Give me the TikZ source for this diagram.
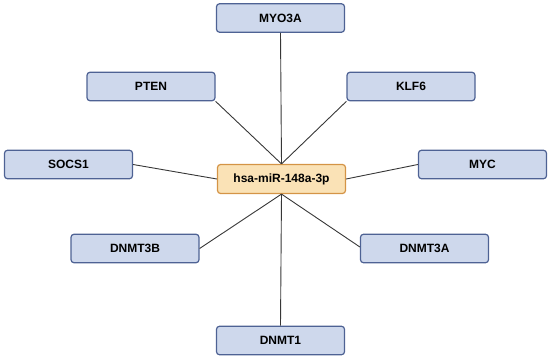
\documentclass[tikz,border=0pt]{standalone}
\usepackage{fontspec}
\setmainfont{Liberation Sans}
\usepackage{tikz}
\usetikzlibrary{positioning}

\definecolor{genefill}{RGB}{206,216,236}
\definecolor{genedraw}{RGB}{78,98,148}
\definecolor{mirfill}{RGB}{250,226,182}
\definecolor{mirdraw}{RGB}{212,148,70}
\definecolor{linkcol}{RGB}{55,55,55}

\begin{document}
\begin{tikzpicture}[
  x=1pt, y=-1pt,
  font=\fontsize{12}{14}\selectfont\bfseries,
  gene/.style = {draw=genedraw, fill=genefill, rectangle, rounded corners=3pt,
                 line width=1.2pt, align=center, inner sep=2pt,
                 minimum width=128pt, minimum height=28.5pt},
  mir/.style  = {draw=mirdraw, fill=mirfill, rectangle, rounded corners=3pt,
                 line width=1.2pt, align=center, inner sep=2pt,
                 minimum width=128pt, minimum height=29pt},
  link/.style = {draw=linkcol, line width=0.9pt}
]
\useasboundingbox (0,0) rectangle (550,359);

% miRNA
\node[mir] (mir) at (281.5, 179) {hsa-miR-148a-3p};

% Target genes
\node[gene] (myo) at (280.5, 18)   {MYO3A};
\node[gene] (pten) at (151, 86.5)  {PTEN};
\node[gene] (klf) at (411, 86.5)   {KLF6};
\node[gene] (socs) at (68.5, 164.5) {SOCS1};
\node[gene] (myc) at (482.5, 164.5) {MYC};
\node[gene] (d3b) at (135, 248.5)  {DNMT3B};
\node[gene] (d3a) at (424.5, 248.5) {DNMT3A};
\node[gene] (d1) at (280.5, 340.5) {DNMT1};

% Links
\draw[link] (myo.south) -- (mir.north);
\draw[link] (pten.south east) -- (mir.north);
\draw[link] (klf.south west) -- (mir.north);
\draw[link] (socs.east) -- (mir.west);
\draw[link] (myc.west) -- (mir.east);
\draw[link] (d3b.east) -- (mir.south);
\draw[link] ([yshift=1.5pt]d3a.west) -- (mir.south);
\draw[link] (d1.north) -- (mir.south);
\end{tikzpicture}
\end{document}
